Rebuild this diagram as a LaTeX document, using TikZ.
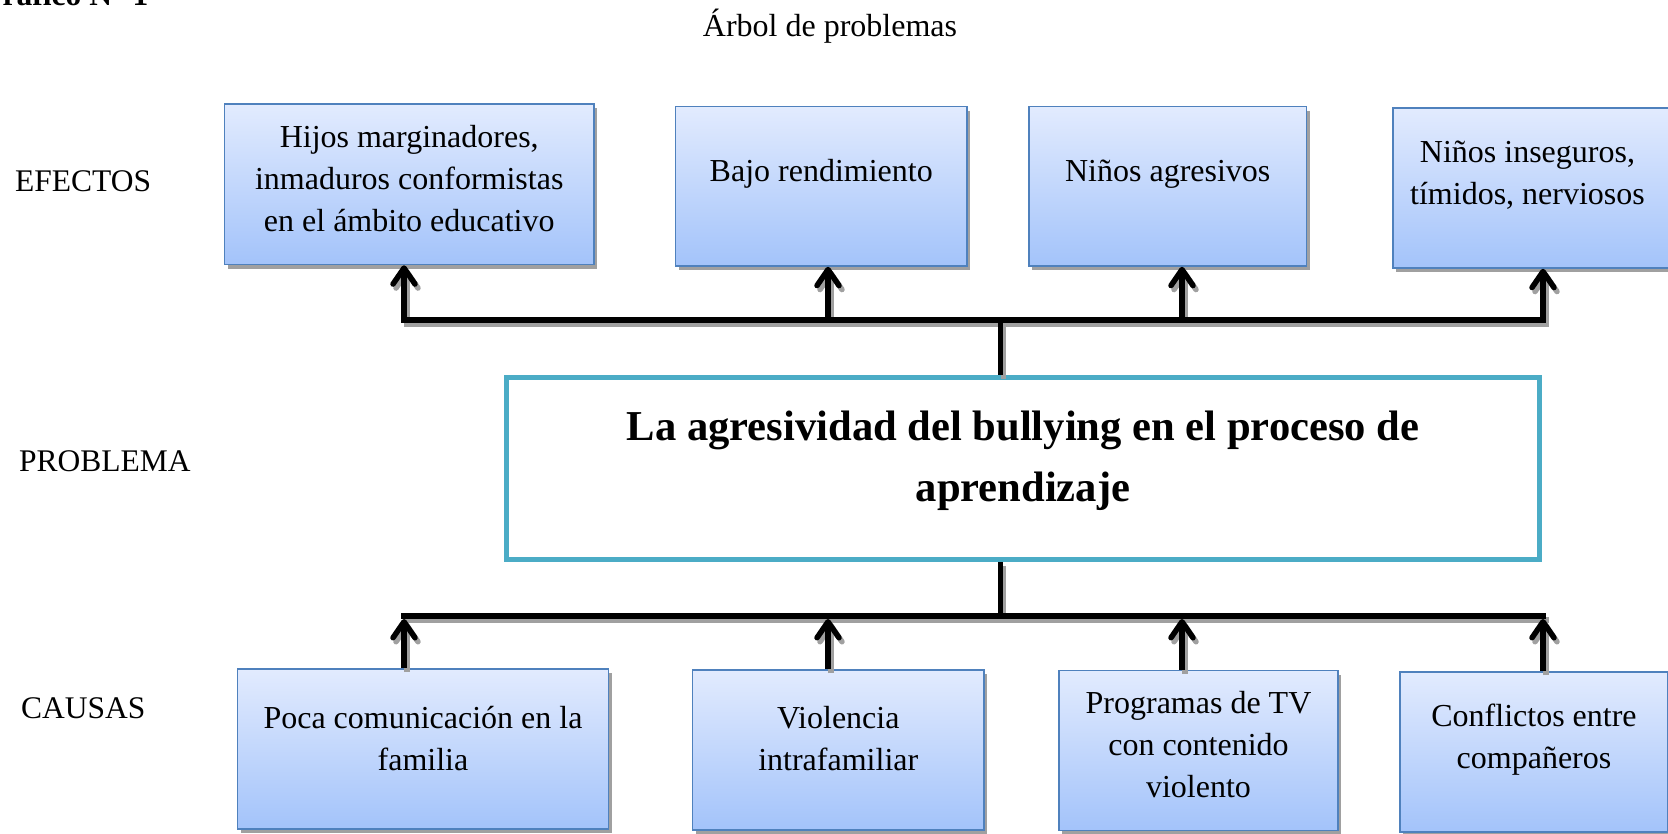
\documentclass[tikz,border=0pt]{standalone}
\usepackage{fontspec}
\setmainfont{Liberation Serif}
\usetikzlibrary{arrows.meta,shadows,fit}
\definecolor{boxtop}{RGB}{226,235,254}
\definecolor{boxbot}{RGB}{163,195,250}
\definecolor{boxborder}{RGB}{79,129,189}
\definecolor{tealb}{RGB}{75,172,198}
\definecolor{shadowgray}{RGB}{160,160,160}
\newcommand\myconnectors{%
  \draw[ln] (tb0) -- (tb0 |- p.north);
  \draw[barline] (tb1) -- (tb4);
  \foreach \i in {1,...,4} {\draw[arr] (tb\i) -- (tb\i |- e\i.south);}
  \draw[ln] (bb0 |- p.south) -- (bb0);
  \draw[barline] (bb1) -- (bb4);
  \foreach \i in {1,...,4} {\draw[arr] (bb\i |- c\i.north) -- ([yshift=-3pt]bb\i);}
}
\begin{document}
\begin{tikzpicture}[x=1pt,y=-1pt,
  bx/.style={draw=boxborder, line width=1.6pt, top color=boxtop, bottom color=boxbot,
    inner sep=0pt, drop shadow={shadow xshift=3pt,shadow yshift=-4pt,fill=shadowgray,opacity=1}},
  pbox/.style={draw=tealb, line width=5pt, fill=white, inner sep=0pt},
  txt/.style={font=\fontsize{32}{42}\selectfont, align=center, inner sep=0pt},
  lbl/.style={font=\fontsize{31.5}{42}\selectfont, inner sep=0pt, anchor=base west},
  ln/.style={line width=5pt},
  barline/.style={line width=6pt, line cap=rect},
  arr/.style={line width=5.5pt, -{Straight Barb[length=16pt,width=22pt,round]}},
]
\useasboundingbox (0,0) rectangle (1668,833);

% headings
\node[lbl, font=\bfseries\fontsize{31.5}{42}\selectfont] (fig) at (-22,5) {Gráfico N° 1};
\node[txt, anchor=base] (title) at (830,36) {Árbol de problemas};
\node[lbl] (lef) at (15,191.5) {EFECTOS};
\node[lbl] (lpr) at (19,471.5) {PROBLEMA};
\node[lbl] (lca) at (21,718) {CAUSAS};

% effect boxes
\node[bx, fit={(224.5,104)(594,264.5)}] (e1) {};
\node[bx, fit={(675.5,106.5)(967,266)}] (e2) {};
\node[bx, fit={(1029,106.5)(1306.5,266)}] (e3) {};
\node[bx, fit={(1393,108)(1672,268)}] (e4) {};
\node[txt] (e1t) at ([yshift=6pt]e1.center) {Hijos marginadores,\\inmaduros conformistas\\en el ámbito educativo};
\node[txt] (e2t) at ([yshift=12.5pt]e2.center) {Bajo rendimiento};
\node[txt] (e3t) at ([yshift=12.5pt]e3.center) {Niños agresivos};
\node[txt] (e4t) at ([yshift=13pt,xshift=-5pt]e4.center) {Niños inseguros,\\tímidos, nerviosos};

% problem
\node[pbox, fit={(506.5,377.5)(1539.5,559.5)}] (p) {};
\node[txt, font=\bfseries\fontsize{42.6}{61}\selectfont] (pt) at ([yshift=8pt]p.center) {La agresividad del bullying en el proceso de\\aprendizaje};

% cause boxes
\node[bx, fit={(237.5,669)(608.5,829)}] (c1) {};
\node[bx, fit={(692.5,670)(984,830)}] (c2) {};
\node[bx, fit={(1059,670.5)(1338,830.5)}] (c3) {};
\node[bx, fit={(1400,672)(1668,832)}] (c4) {};
\node[txt] (c1t) at ([yshift=10.5pt]c1.center) {Poca comunicación en la\\familia};
\node[txt] (c2t) at ([yshift=11.5pt]c2.center) {Violencia\\intrafamiliar};
\node[txt] (c3t) at ([yshift=6pt]c3.center) {Programas de TV\\con contenido\\violento};
\node[txt] (c4t) at ([yshift=12.5pt]c4.center) {Conflictos entre\\compañeros};

% junction coordinates
\coordinate (tb0) at (1000,320);
\coordinate (tb1) at (404,320);
\coordinate (tb2) at (828,320);
\coordinate (tb3) at (1182,320);
\coordinate (tb4) at (1543,320);
\coordinate (bb0) at (1000,616);
\coordinate (bb1) at (404,616);
\coordinate (bb2) at (828,616);
\coordinate (bb3) at (1182,616);
\coordinate (bb4) at (1543,616);

\begin{scope}[transform canvas={shift={(3pt,-4pt)}}, color=shadowgray]
  \myconnectors
\end{scope}
\begin{scope}[color=black]
  \myconnectors
\end{scope}
\end{tikzpicture}
\end{document}
